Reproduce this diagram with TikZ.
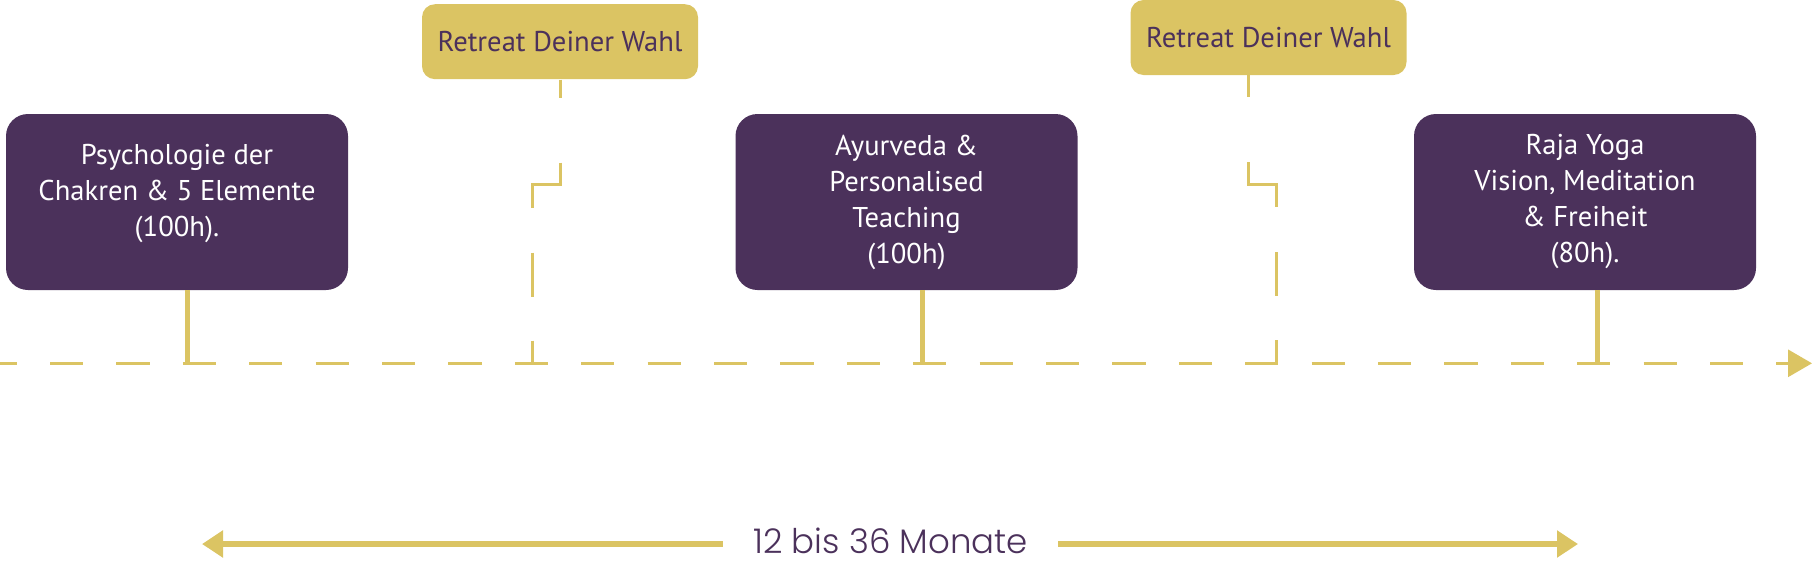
\documentclass[tikz,border=0pt]{standalone}
\usepackage{fontspec}
\setmainfont{PT Sans}
\newfontfamily\spanfont{Poppins Light}
\usepackage{xcolor}
\usetikzlibrary{arrows.meta}

\definecolor{stagepurple}{RGB}{75,49,91}
\definecolor{retreatgold}{RGB}{219,196,99}

\begin{document}
\begin{tikzpicture}[x=0.5pt, y=-0.5pt, >={Triangle[length=10.5pt, width=13pt]},
  every stage/.style={rectangle, rounded corners=11pt, fill=stagepurple, text=white,
    align=center, minimum width=171pt, minimum height=88pt, inner sep=0pt,
    font=\fontsize{14.3}{18}\selectfont},
  every retreat/.style={rectangle, rounded corners=6.5pt, fill=retreatgold, text=stagepurple,
    minimum width=138pt, minimum height=37.5pt, inner sep=0pt,
    font=\fontsize{14.3}{18}\selectfont},
  stem line/.style={draw=retreatgold, line width=2.5pt},
  axis line/.style={draw=retreatgold, line width=1.5pt, dash pattern=on 16.6pt off 16.6pt, dash phase=8.2pt},
  retreat line/.style={draw=retreatgold, line width=1.5pt,
    dash pattern=on 11pt off 32.5pt on 36.5pt off 22.5pt on 22pt off 22pt on 20pt off 10pt},
  span line/.style={draw=retreatgold, line width=3pt},
  span text/.style={text=stagepurple, inner xsep=15pt, inner ysep=0pt,
    font=\spanfont\fontsize{17}{20}\selectfont}]

\useasboundingbox (0,0) rectangle (1813,563);

% stages
\node [every stage, text depth=11.5pt] (stage-1) at (177,202) {Psychologie der\\Chakren \& 5 Elemente\\(100h).};
\node [every stage] (stage-2) at (906.5,202) {Ayurveda \&\\Personalised\\Teaching\\(100h)};
\node [every stage] (stage-3) at (1585,202) {Raja Yoga\\Vision, Meditation\\\& Freiheit\\(80h).};

% retreats
\node [every retreat] (retreat-1) at (560,41.7) {Retreat Deiner Wahl};
\node [every retreat] (retreat-2) at (1268.5,37.5) {Retreat Deiner Wahl};

% timeline
\coordinate (axis-start) at (0,363.3);
\coordinate (axis-end) at (1812,363.3);
\draw [axis line, -{Triangle[length=12pt, width=13.5pt]}] (axis-start) -- (axis-end);

\foreach \i/\dx in {1/5.25pt, 2/8pt, 3/6.25pt}
  \draw [stem line] ([xshift=\dx]stage-\i.south) -- ([xshift=\dx]stage-\i.south |- axis-start);

\draw [retreat line, dash phase=2pt] (retreat-1.south) -- ++(0,105) -- ++(-28,0)
  coordinate (retreat-1-step) -- (retreat-1-step |- axis-start);
\draw [retreat line] ([xshift=-10.25pt]retreat-2.south) -- ++(0,109) -- ++(28,0)
  coordinate (retreat-2-step) -- (retreat-2-step |- axis-start);

% duration
\node [span text] (span) at (890.5,541) {12 bis 36 Monate};
\coordinate (span-left) at (202,544);
\coordinate (span-right) at (1578,544);
\draw [span line, ->] (span.west |- span-left) -- (span-left);
\draw [span line, ->] (span.east |- span-right) -- (span-right);

\end{tikzpicture}
\end{document}
